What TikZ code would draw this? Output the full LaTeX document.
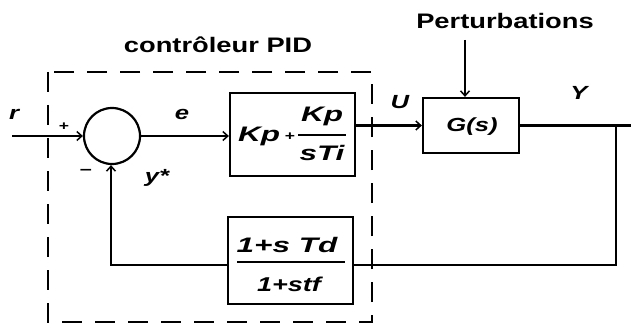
\documentclass[tikz,border=0pt]{standalone}
\usepackage{fontspec}
\setmainfont{Liberation Sans}
\newfontfamily\wfont[FakeStretch=1.3]{Liberation Sans}
\newfontfamily\lfont[FakeStretch=1.35]{Liberation Sans}
\newfontfamily\bfont[FakeStretch=1.5]{Liberation Sans}
\usetikzlibrary{arrows.meta}
\begin{document}
\begin{tikzpicture}[x=1pt,y=-1pt,
  line width=2.2pt,
  arr/.style={-{Straight Barb[length=5pt,width=9pt,line width=1.5pt]}},
  blk/.style={draw,rectangle,inner sep=0pt},
  ttl/.style={font=\wfont\bfseries\fontsize{21}{24}\selectfont,inner sep=0pt},
  lbl/.style={font=\lfont\bfseries\itshape\fontsize{19}{22}\selectfont,inner sep=0pt},
  btx/.style={font=\bfont\bfseries\itshape\fontsize{21}{24}\selectfont,inner sep=0pt},
  sml/.style={font=\lfont\bfseries\fontsize{13}{15}\selectfont,inner sep=0pt}]
\useasboundingbox (0,0) rectangle (631,326);
% dashed PID box
\draw[dash pattern=on 20pt off 13pt] (48,72) rectangle (372,322);
\node[ttl] (title) at (218,45) {contrôleur PID};
\node[ttl] (pert) at (505,21) {Perturbations};
% summing junction
\node[draw,circle,minimum size=56pt,inner sep=0pt] (sum) at (112,136) {};
\coordinate (rin) at (12,136);
% PI block
\node[blk,minimum width=125pt,minimum height=83pt] (pi) at (292.5,134.5) {};
\node[btx] (kp1) at (259,136) {Kp};
\node[sml] (plus1) at (290,137) {+};
\node[btx] (kp2) at (322,116) {Kp};
\node[btx] (sti) at (322,153) {sTi};
\draw (298,135) -- (346,135);
% plant
\node[blk,minimum width=96pt,minimum height=55pt] (g) at (471,125.5) {};
\node[lbl] (gs) at (472,127) {G(s)};
\coordinate (pin) at (465,40);
\coordinate (yout) at (631,125.5);
\coordinate (tap) at (616,125.5);
% feedback block
\node[blk,minimum width=125pt,minimum height=87pt] (fb) at (290.5,260.5) {};
\node[btx] (num) at (287,245) {1+s Td};
\node[lbl,font=\lfont\bfseries\itshape\fontsize{20}{23}\selectfont] (den) at (289,284) {1+stf};
\draw (237,262) -- (345,262);
\coordinate (corner) at (616,265);
\coordinate (back) at (111,265);
% connectors
\draw[arr] (rin) -- (sum.west);
\draw[arr] (sum.east) -- (pi.west |- sum.east);
\draw[arr] (pi.east |- g.west) -- (g.west);
\draw[arr] (pin) -- (g.north -| pin);
\draw (g.east) -- (yout);
\draw (tap) -- (corner) -- (fb.east |- corner);
\draw[arr] (fb.west |- back) -- (back) -- (sum.south -| back);
% labels
\node[lbl] (lr) at (14,114) {r};
\node[lbl] (le) at (182,114) {e};
\node[lbl] (lu) at (400,102) {U};
\node[lbl] (ly) at (579,93) {Y};
\node[lbl] (lys) at (157,178) {y*};
\node[sml] (lp) at (64,127) {+};
\node[sml,font=\lfont\bfseries\fontsize{16}{18}\selectfont] (lm) at (86,172) {–};
\end{tikzpicture}
\end{document}
